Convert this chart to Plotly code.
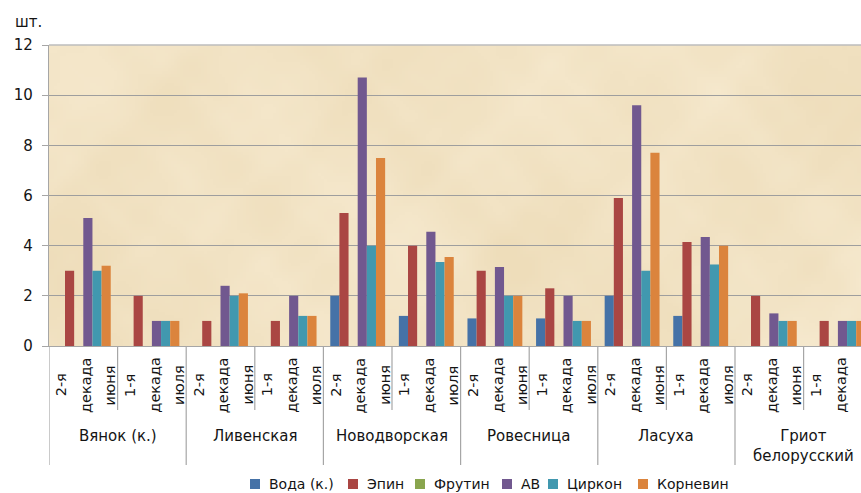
import base64
import struct
import zlib

import numpy as np
import plotly.graph_objects as go

# Cultivars (outer category level) and observation periods (inner level)
varieties = ["Вянок (к.)", "Ливенская", "Новодворская", "Ровесница", "Ласуха", "Гриот<br>белорусский"]
period_words = [["2-я", "декада", "июня"], ["1-я", "декада", "июля"]]

# Treatments; each list: (variety, period) pairs in order
series_names = ["Вода (к.)", "Эпин", "Фрутин", "АВ", "Циркон", "Корневин"]
voda =     [0, 0,   0, 0,    2.0, 1.2,   1.1, 1.1,   2.0, 1.2,   0, 0]
epin =     [3.0, 2.0, 1.0, 1.0, 5.3, 4.0, 3.0, 2.3, 5.9, 4.15, 2.0, 1.0]
frutin =   [0, 0,   0, 0,    0, 0,       0, 0,       0, 0,       0, 0]
av =       [5.1, 1.0, 2.4, 2.0, 10.7, 4.55, 3.15, 2.0, 9.6, 4.35, 1.3, 1.0]
tsirkon =  [3.0, 1.0, 2.0, 1.2, 4.0, 3.35, 2.0, 1.0, 3.0, 3.25, 1.0, 1.0]
kornevin = [3.2, 1.0, 2.1, 1.2, 7.5, 3.55, 2.0, 1.0, 7.7, 4.0, 1.0, 1.0]

y_ticks = [0, 2, 4, 6, 8, 10, 12]
y_unit = "шт."

colors = ["#4572A7", "#AA4643", "#89A54E", "#71588F", "#4198AF", "#DB843D"]
series_values = [voda, epin, frutin, av, tsirkon, kornevin]

FONT = "DejaVu Sans"
TEXT = "#141414"
W, H = 861, 493
ML, MR, MT, MB = 49, 0, 45, 147
plot_w = W - ML - MR
plot_h = H - MT - MB

n_cat = len(varieties) * len(period_words)
xpos = list(range(n_cat))


def px(pixel_x):
    """Convert a pixel column of the page into paper x coordinate."""
    return (pixel_x - ML) / plot_w


def py(pixel_y):
    """Convert a pixel row of the page into paper y coordinate."""
    return (H - MB - pixel_y) / plot_h


def parchment_png(w=270, h=100):
    """Soft, blotchy parchment fill built from products of waves."""
    v, u = np.mgrid[0:h, 0:w].astype(float)
    u = u / w * 8.1
    v = v / h * 3.0
    blobs = [(1.3, 1.1, 0.4, 1.9, 1.0), (2.7, 2.3, 1.3, 0.2, 0.7),
             (4.1, 3.7, 2.1, 2.6, 0.5), (6.3, 5.9, 0.7, 1.1, 0.35),
             (9.7, 8.3, 2.9, 0.5, 0.25), (13.1, 12.7, 1.9, 2.2, 0.2)]
    t = np.zeros_like(u)
    for fu, fv, pu, pv, a in blobs:
        t += a * np.sin(fu * u + pu + 0.6 * np.sin(fv * 0.7 * v)) * np.sin(fv * v + pv + 0.5 * np.sin(fu * 0.5 * u))
    t = t / np.abs(t).max()
    base = np.array([242.0, 227.0, 196.0])
    shade = np.array([4.0, 6.0, 10.0])
    img = base[None, None, :] + t[..., None] * shade[None, None, :]
    img = np.clip(img, 0, 255).astype(np.uint8)

    raw = b"".join(b"\x00" + row.tobytes() for row in img)

    def chunk(tag, data):
        return (struct.pack(">I", len(data)) + tag + data
                + struct.pack(">I", zlib.crc32(tag + data) & 0xFFFFFFFF))

    png = (b"\x89PNG\r\n\x1a\n"
           + chunk(b"IHDR", struct.pack(">IIBBBBB", w, h, 8, 2, 0, 0, 0))
           + chunk(b"IDAT", zlib.compress(raw, 9))
           + chunk(b"IEND", b""))
    return "data:image/png;base64," + base64.b64encode(png).decode("ascii")


fig = go.Figure()
for name, vals, col in zip(series_names, series_values, colors):
    fig.add_trace(go.Bar(
        x=xpos, y=vals, name=name, showlegend=False,
        marker=dict(color=col, line=dict(width=0)),
    ))

shapes = []
annotations = []

# Dividers below the axis: short ones between periods, long ones between cultivars
for b in range(n_cat + 1):
    bx = b - 0.5
    long_line = (b % 2 == 0)
    shapes.append(dict(
        type="line", xref="x", yref="paper",
        x0=bx, x1=bx, y0=0, y1=py(465 if long_line else 410),
        line=dict(color="#a6a6a6", width=1.2),
    ))

# Lighter frame line along the top of the plotting area
shapes.append(dict(
    type="line", xref="paper", yref="paper", x0=0, x1=1, y0=1, y1=1,
    line=dict(color="#bdbdbd", width=1.5),
))

# Period labels, one rotated word per column
word_offsets = [0.18, 0.54, 0.895]
for i in range(n_cat):
    words = period_words[i % 2]
    for k, w in enumerate(words):
        annotations.append(dict(
            x=i - 0.5 + word_offsets[k], y=py(385),
            xref="x", yref="paper", text=w, showarrow=False,
            textangle=-90, xanchor="center", yanchor="middle",
            font=dict(family=FONT, size=14.5, color=TEXT),
        ))

# Cultivar labels
for g, v in enumerate(varieties):
    annotations.append(dict(
        x=2 * g + 0.5, y=py(425), xref="x", yref="paper",
        text=v, showarrow=False, xanchor="center", yanchor="top",
        font=dict(family=FONT, size=15, color=TEXT),
    ))

# Unit label above the value axis
annotations.append(dict(
    x=px(13), y=py(22), xref="paper", yref="paper",
    text=y_unit, showarrow=False, xanchor="left", yanchor="middle",
    font=dict(family=FONT, size=15, color=TEXT),
))

# Legend row: colour square followed by the series name
legend_left = [250, 348, 415, 502, 548, 638]
for name, col, lx in zip(series_names, colors, legend_left):
    shapes.append(dict(
        type="rect", xref="paper", yref="paper",
        x0=px(lx), x1=px(lx + 10), y0=py(489), y1=py(479),
        fillcolor=col, line=dict(width=0),
    ))
    annotations.append(dict(
        x=px(lx + 17), y=py(484), xref="paper", yref="paper",
        text=name, showarrow=False, xanchor="left", yanchor="middle",
        font=dict(family=FONT, size=14, color=TEXT),
    ))

fig.update_layout(
    width=W, height=H,
    margin=dict(l=ML, r=MR, t=MT, b=MB, pad=0),
    paper_bgcolor="white",
    plot_bgcolor="#f1e0bf",
    barmode="group", bargap=0.2, bargroupgap=0,
    font=dict(family=FONT, size=15, color=TEXT),
    showlegend=False,
    shapes=shapes,
    annotations=annotations,
    images=[dict(
        source=parchment_png(), xref="paper", yref="paper",
        x=0, y=1, sizex=1, sizey=1, xanchor="left", yanchor="top",
        sizing="stretch", layer="below", opacity=1,
    )],
)

fig.update_xaxes(
    range=[-0.5, -0.5 + plot_w / 68.6],
    showticklabels=False, showgrid=False, zeroline=False,
    showline=True, linecolor="#a6a6a6", linewidth=1.2, ticks="",
    fixedrange=True,
)
fig.update_yaxes(
    range=[0, 12], tickvals=y_ticks, ticktext=[str(t) for t in y_ticks],
    showgrid=True, gridcolor="#9e9e9e", gridwidth=1.2,
    zeroline=False, showline=True, linecolor="#a6a6a6", linewidth=1.2,
    ticks="outside", ticklen=6, tickcolor="#a6a6a6", tickwidth=1.2,
    ticklabelstandoff=6,
    tickfont=dict(family=FONT, size=15, color=TEXT),
    fixedrange=True,
)

fig.write_html("out.html")
